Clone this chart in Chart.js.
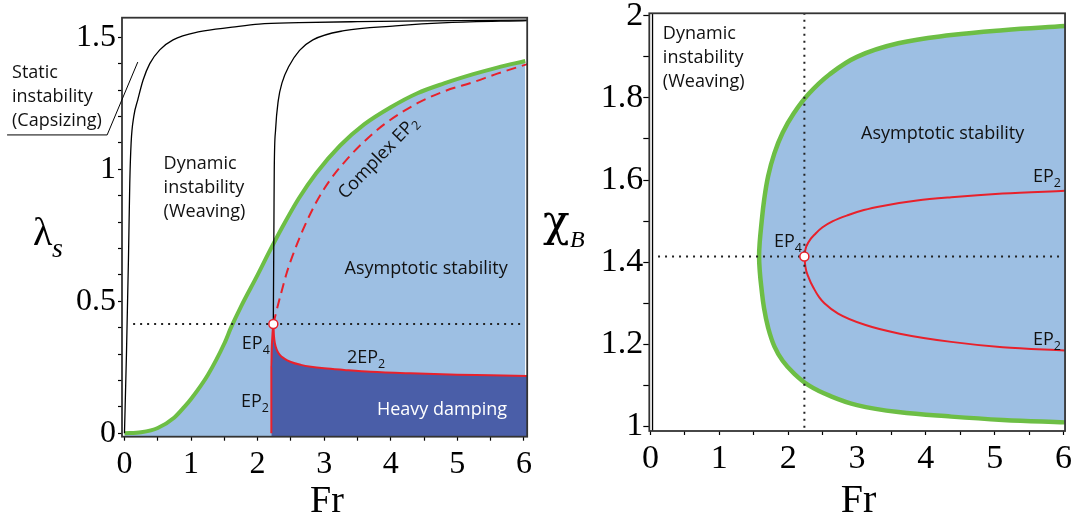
<!DOCTYPE html>
<html>
<head>
<meta charset="utf-8">
<script src="https://cdn.jsdelivr.net/npm/chart.js@4.4.1/dist/chart.umd.min.js"></script>
<style>
  html, body { margin: 0; padding: 0; background: #fff; }
  #wrap { position: relative; width: 1079px; height: 523px; overflow: hidden; }
  #chartL { position: absolute; left: 0; top: 0; }
  #chartR { position: absolute; left: 540px; top: 0; }
</style>
</head>
<body>
<div id="wrap">
  <canvas id="chartL" width="540" height="523"></canvas>
  <canvas id="chartR" width="539" height="523"></canvas>
</div>
<script>
// ---- Ticks ----
const frTickValues = [0, 0.5, 1, 1.5, 2, 2.5, 3, 3.5, 4, 4.5, 5, 5.5, 6];
const frTickLabels = ['0', '', '1', '', '2', '', '3', '', '4', '', '5', '', '6'];
const lamTickValues = [0, 0.1, 0.2, 0.3, 0.4, 0.5, 0.6, 0.7, 0.8, 0.9, 1, 1.1, 1.2, 1.3, 1.4, 1.5];
const lamTickLabels = ['0', '', '', '', '', '0.5', '', '', '', '', '1', '', '', '', '', '1.5'];
const chiTickValues = [1, 1.1, 1.2, 1.3, 1.4, 1.5, 1.6, 1.7, 1.8, 1.9, 2];
const chiTickLabels = ['1', '', '1.2', '', '1.4', '', '1.6', '', '1.8', '', '2'];

// ---- Punto EP4 ----
const ep4Fr = 2.236;
const ep4Lam = 0.414;
const ep4Chi = 1.414;

// ---- Panel izquierdo (lambda_s vs Fr) ----
const greenFrL  = [0, 0.25, 0.5, 0.75, 0.9, 1.0, 1.25, 1.5, 1.6, 1.75, 2.0, 2.13, 2.37, 2.62, 2.88, 3.24, 3.6, 4.0, 4.4, 4.8, 5.24, 5.6, 6.02];
const greenLamL = [0, 0.004, 0.02, 0.06, 0.1, 0.13, 0.22, 0.34, 0.40, 0.48, 0.6, 0.665, 0.78, 0.89, 0.985, 1.09, 1.17, 1.235, 1.288, 1.325, 1.36, 1.385, 1.41];

const capsizeFr  = [0, 0.03, 0.06, 0.08, 0.1, 0.14, 0.2, 0.28, 0.38, 0.53, 0.73, 1.13, 1.62, 2.02, 2.62, 3.5, 4.5, 6.05];
const capsizeLam = [0, 0.3, 0.66, 0.95, 1.1, 1.2, 1.263, 1.338, 1.40, 1.452, 1.49, 1.521, 1.538, 1.55, 1.555, 1.559, 1.562, 1.565];

const weaveFr  = [2.236, 2.24, 2.245, 2.25, 2.27, 2.31, 2.37, 2.47, 2.63, 2.83, 3.3, 4.07, 4.85, 6.05];
const weaveLam = [0.414, 0.6, 0.8, 1.0, 1.15, 1.26, 1.33, 1.39, 1.45, 1.49, 1.525, 1.543, 1.555, 1.563];

const ep2Fr  = [2.206, 2.206, 2.212, 2.222, 2.236, 2.245, 2.26, 2.29, 2.33, 2.4, 2.5, 2.65, 2.8, 3.0, 3.3, 3.7, 4.3, 5.0, 5.5, 6.05];
const ep2Lam = [0, 0.25, 0.32, 0.37, 0.414, 0.37, 0.34, 0.315, 0.298, 0.283, 0.27, 0.259, 0.252, 0.246, 0.24, 0.233, 0.227, 0.222, 0.22, 0.217];

const complexFr  = [2.236, 2.3, 2.363, 2.44, 2.52, 2.68, 2.88, 3.09, 3.35, 3.6, 3.9, 4.4, 4.8, 5.24, 5.6, 6.05];
const complexLam = [0.414, 0.48, 0.54, 0.61, 0.669, 0.77, 0.875, 0.96, 1.04, 1.105, 1.17, 1.25, 1.295, 1.33, 1.362, 1.398];

const dotFrL = [0.13, 5.95];

// ---- Panel derecho (chi_B vs Fr) ----
const greenFrR  = [6.02, 5.12, 4.37, 3.6, 3.0, 2.6, 2.3, 2.08, 1.92, 1.80, 1.71, 1.65, 1.61, 1.588, 1.578,
                   1.588, 1.61, 1.65, 1.71, 1.80, 1.92, 2.08, 2.3, 2.6, 3.0, 3.6, 4.37, 5.12, 6.02];
const greenChiR = [1.975, 1.965, 1.953, 1.933, 1.90, 1.857, 1.81, 1.762, 1.715, 1.665, 1.61, 1.55, 1.49, 1.45, 1.414,
                   1.378, 1.34, 1.288, 1.24, 1.195, 1.16, 1.13, 1.10, 1.075, 1.052, 1.035, 1.024, 1.016, 1.01];

const ep2UpFr  = [2.236, 2.25, 2.3, 2.4, 2.5, 2.65, 2.875, 3.1, 3.373, 3.872, 4.37, 5.117, 6.02];
const ep2UpChi = [1.414, 1.43, 1.45, 1.47, 1.485, 1.50, 1.515, 1.527, 1.537, 1.55, 1.558, 1.567, 1.574];
const ep2LoFr  = [2.236, 2.25, 2.3, 2.377, 2.45, 2.527, 2.726, 3.125, 3.622, 4.37, 5.117, 6.02];
const ep2LoChi = [1.414, 1.39, 1.362, 1.335, 1.315, 1.30, 1.275, 1.247, 1.226, 1.206, 1.193, 1.185];

const capsizeFrR  = [0.03, 0.03];
const capsizeChiR = [0.98, 2.02];
const dotFrR = [0.11, 5.99];

// ---- Estilos ----
const VERDE = '#6dbe45';
const AZUL_CLARO = '#9dbfe3';
const AZUL_OSCURO = '#4a5ea8';
const ROJO = '#e8212b';
const SERIF = '"Liberation Serif", "DejaVu Serif", serif';
const SANS = '"Open Sans", "Noto Sans", sans-serif';

const pts = (xs, ys) => xs.map((x, i) => ({ x: x, y: ys[i] }));
const cte = (xs, v) => xs.map(x => ({ x: x, y: v }));

function linea(data, color, width, extra) {
    return Object.assign({
        data: data,
        showLine: true,
        borderColor: color,
        borderWidth: width,
        pointRadius: 0,
        fill: false,
        cubicInterpolationMode: 'monotone'
    }, extra || {});
}

function puntoEP4(x, y) {
    return {
        data: [{ x: x, y: y }],
        showLine: false,
        pointRadius: 4.5,
        pointBackgroundColor: '#fff',
        pointBorderColor: ROJO,
        pointBorderWidth: 1.5
    };
}

function ejeX(min, max, height, size, pad) {
    return {
        type: 'linear', min: min, max: max,
        afterBuildTicks: s => { s.ticks = frTickValues.map(v => ({ value: v })); },
        afterFit: s => { s.height = height; },
        ticks: { callback: (v, i) => frTickLabels[i], font: { family: SERIF, size: size, lineHeight: 1 },
                 color: '#000', padding: pad, maxRotation: 0, autoSkip: false },
        grid: { drawOnChartArea: false, drawTicks: true, tickLength: 4, tickColor: '#000', tickWidth: 1.2 },
        border: { display: false }
    };
}

function ejeY(min, max, width, values, labels, size, tickLen, pad) {
    return {
        type: 'linear', min: min, max: max,
        afterBuildTicks: s => { s.ticks = values.map(v => ({ value: v })); },
        afterFit: s => { s.width = width; },
        ticks: { callback: (v, i) => labels[i], font: { family: SERIF, size: size, lineHeight: 0.75 },
                 color: '#000', padding: pad, autoSkip: false },
        grid: { drawOnChartArea: false, drawTicks: true, tickLength: tickLen, tickColor: '#000', tickWidth: 1.2 },
        border: { display: false }
    };
}

// Marco, textos y títulos de ejes
const decoraciones = {
    id: 'decoraciones',
    afterDatasetsDraw(chart) {
        const ctx = chart.ctx;
        const a = chart.chartArea;
        ctx.save();
        ctx.strokeStyle = '#333';
        ctx.lineWidth = 1.8;
        ctx.strokeRect(a.left, a.top, a.right - a.left, a.bottom - a.top);
        ctx.restore();
    },
    afterDraw(chart, args, opts) {
        const ctx = chart.ctx;
        const sx = chart.scales.x, sy = chart.scales.y;
        if (opts.guia) {
            ctx.save();
            ctx.strokeStyle = '#000';
            ctx.lineWidth = 1;
            ctx.beginPath();
            opts.guia.forEach((p, i) => {
                const px = sx.getPixelForValue(p[0]), py = sy.getPixelForValue(p[1]);
                if (i === 0) ctx.moveTo(px, py); else ctx.lineTo(px, py);
            });
            ctx.stroke();
            ctx.restore();
        }
        (opts.notas || []).forEach(n => {
            ctx.save();
            ctx.translate(sx.getPixelForValue(n.x), sy.getPixelForValue(n.y));
            if (n.rot) ctx.rotate(n.rot * Math.PI / 180);
            ctx.fillStyle = n.color || '#111';
            ctx.textBaseline = n.base || 'alphabetic';
            ctx.textAlign = 'left';
            ctx.font = '18px ' + SANS;
            const w1 = ctx.measureText(n.t).width;
            let w2 = 0;
            if (n.sub) {
                ctx.font = '12.5px ' + SANS;
                w2 = ctx.measureText(n.sub).width;
            }
            const x0 = n.align === 'center' ? -(w1 + w2) / 2 : 0;
            ctx.font = '18px ' + SANS;
            ctx.fillText(n.t, x0, 0);
            if (n.sub) {
                ctx.font = '12.5px ' + SANS;
                ctx.fillText(n.sub, x0 + w1, 5);
            }
            ctx.restore();
        });
        (opts.titulos || []).forEach(t => {
            ctx.save();
            ctx.fillStyle = '#000';
            ctx.font = t.font;
            ctx.textAlign = t.align || 'left';
            ctx.textBaseline = 'alphabetic';
            ctx.fillText(t.t, t.px, t.py);
            ctx.restore();
        });
    }
};

const baseOpts = {
    responsive: false,
    animation: false,
    events: [],
    devicePixelRatio: 1
};

// ---- Gráfica izquierda ----
new Chart(document.getElementById('chartL'), {
    type: 'scatter',
    data: {
        datasets: [
            puntoEP4(ep4Fr, ep4Lam),
            linea(cte(dotFrL, ep4Lam), '#222', 2, { borderDash: [2, 5], cubicInterpolationMode: 'default' }),
            linea(pts(complexFr, complexLam), ROJO, 2, { borderDash: [10, 6] }),
            linea(pts(ep2Fr, ep2Lam), ROJO, 2, { fill: 'start', backgroundColor: AZUL_OSCURO }),
            linea(pts(capsizeFr, capsizeLam), '#000', 1.3),
            linea(pts(weaveFr, weaveLam), '#000', 1.3),
            linea(pts(greenFrL, greenLamL), VERDE, 4, { fill: 'start', backgroundColor: AZUL_CLARO })
        ]
    },
    options: Object.assign({}, baseOpts, {
        layout: { padding: { left: 0, top: 17.7, right: 9, bottom: 0 } },
        scales: {
            x: ejeX(-0.037, 6.049, 86.3, 32, 8),
            y: ejeY(-0.013, 1.574, 122, lamTickValues, lamTickLabels, 32, 4, 2)
        },
        plugins: {
            legend: { display: false },
            tooltip: { enabled: false },
            filler: { drawTime: 'beforeDatasetsDraw' },
            decoraciones: {
                guia: [[-1.763, 1.13], [-0.26, 1.13], [0.2, 1.406]],
                notas: [
                    { x: -1.689, y: 1.346, t: 'Static' },
                    { x: -1.689, y: 1.255, t: 'instability' },
                    { x: -1.689, y: 1.164, t: '(Capsizing)' },
                    { x: 0.588, y: 1.001, t: 'Dynamic' },
                    { x: 0.588, y: 0.910, t: 'instability' },
                    { x: 0.588, y: 0.819, t: '(Weaving)' },
                    { x: 3.817, y: 1.043, t: 'Complex EP', sub: '2', rot: -46, align: 'center', base: 'middle' },
                    { x: 4.531, y: 0.603, t: 'Asymptotic stability', align: 'center' },
                    { x: 1.763, y: 0.319, t: 'EP', sub: '4' },
                    { x: 3.341, y: 0.266, t: '2EP', sub: '2' },
                    { x: 1.749, y: 0.100, t: 'EP', sub: '2' },
                    { x: 4.769, y: 0.069, t: 'Heavy damping', align: 'center', color: '#fff' }
                ],
                titulos: [
                    { t: 'λ', px: 33, py: 245, font: '40px ' + SERIF },
                    { t: 's', px: 52, py: 257, font: 'italic 28px ' + SERIF },
                    { t: 'Fr', px: 327, py: 512, font: '38px ' + SERIF, align: 'center' }
                ]
            }
        }
    }),
    plugins: [decoraciones]
});

// ---- Gráfica derecha ----
new Chart(document.getElementById('chartR'), {
    type: 'scatter',
    data: {
        datasets: [
            puntoEP4(ep4Fr, ep4Chi),
            linea(cte(dotFrR, ep4Chi), '#222', 2, { borderDash: [2, 5], cubicInterpolationMode: 'default' }),
            linea([{ x: ep4Fr, y: 0.98 }, { x: ep4Fr, y: 2.02 }], '#222', 2, { borderDash: [2, 5], cubicInterpolationMode: 'default' }),
            linea(pts(ep2UpFr, ep2UpChi), ROJO, 2),
            linea(pts(ep2LoFr, ep2LoChi), ROJO, 2),
            linea(pts(capsizeFrR, capsizeChiR), '#000', 1.3, { cubicInterpolationMode: 'default' }),
            linea(pts(greenFrR, greenChiR), VERDE, 4.5, { fill: 'shape', backgroundColor: AZUL_CLARO, cubicInterpolationMode: 'default', tension: 0.4 })
        ]
    },
    options: Object.assign({}, baseOpts, {
        layout: { padding: { left: 0, top: 13.3, right: 10.7, bottom: 0 } },
        scales: {
            x: ejeX(-0.017, 6.023, 92, 34, 7),
            y: ejeY(0.989, 2.006, 109.3, chiTickValues, chiTickLabels, 34, 6, 0)
        },
        plugins: {
            legend: { display: false },
            tooltip: { enabled: false },
            filler: { drawTime: 'beforeDatasetsDraw' },
            decoraciones: {
                notas: [
                    { x: 0.18, y: 1.9426, t: 'Dynamic' },
                    { x: 0.18, y: 1.884, t: 'instability' },
                    { x: 0.18, y: 1.8257, t: '(Weaving)' },
                    { x: 4.245, y: 1.700, t: 'Asymptotic stability', align: 'center' },
                    { x: 5.557, y: 1.596, t: 'EP', sub: '2' },
                    { x: 1.795, y: 1.437, t: 'EP', sub: '4' },
                    { x: 5.557, y: 1.198, t: 'EP', sub: '2' }
                ],
                titulos: [
                    { t: 'χ', px: 3, py: 236, font: '44px "DejaVu Serif", serif' },
                    { t: 'B', px: 30, py: 247, font: 'italic 24px ' + SERIF },
                    { t: 'Fr', px: 318.5, py: 512, font: '40px ' + SERIF, align: 'center' }
                ]
            }
        }
    }),
    plugins: [decoraciones]
});
</script>
</body>
</html>
